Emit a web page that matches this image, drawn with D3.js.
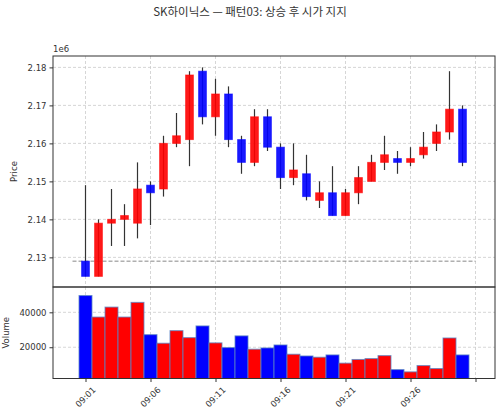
<!DOCTYPE html>
<html>
<head>
<meta charset="utf-8">
<script src="https://cdn.jsdelivr.net/npm/d3@7"></script>
<style>
  body { margin: 0; background: #fff; }
  text { font-family: "DejaVu Sans", "Noto Sans CJK KR", sans-serif; fill: #333; }
</style>
</head>
<body>
<div id="chart"></div>
<script>
// data (prices in won, volume in shares)
var times  = ["09:01","09:02","09:03","09:04","09:05","09:06","09:07","09:08","09:09","09:10",
              "09:11","09:12","09:13","09:14","09:15","09:16","09:17","09:18","09:19","09:20",
              "09:21","09:22","09:23","09:24","09:25","09:26","09:27","09:28","09:29","09:30"];
var opens  = [2129,2125,2139,2140,2139,2149,2148,2160,2161,2179, 2167,2173,2161,2155,2167,2159,2151,2152,2145,2147, 2141,2147,2150,2155,2156,2155,2157,2160,2163,2169];
var highs  = [2149,2140,2148,2144,2155,2150,2162,2168,2179,2180, 2177,2175,2162,2169,2169,2160,2160,2157,2150,2154, 2148,2154,2157,2162,2158,2159,2163,2165,2179,2170];
var lows   = [2125,2125,2133,2133,2135,2138.5,2146,2159,2154,2165, 2162,2159,2152,2154,2158,2148,2149,2145,2143,2141, 2141,2144,2150,2153,2152,2154,2156,2158,2161,2154];
var closes = [2125,2139,2140,2141,2148,2147,2160,2162,2178,2167, 2173,2161,2155,2167,2159,2151,2153,2146,2147,2141, 2147,2151,2155,2157,2155,2156,2159,2163,2169,2155];
var volumes = [49600,37300,43000,37300,45700,27200,22300,29500,25500,32200,
               22500,19800,26500,18900,19600,21300,16000,15000,14300,15600,
               10900,13000,13500,15200,7200,5900,9500,7800,25300,15600];
var supportPrice = 2129; // open of first candle
var priceTicks = [2130,2140,2150,2160,2170,2180];
var volTicks = [20000, 40000];
var xTickIdx = [0,5,10,15,20,25,30];
var xTickLabels = ["09:01","09:06","09:11","09:16","09:21","09:26",""];

var W = 500, H = 416;
var left = 53, right = 495;
var pTop = 56, pBot = 287, vTop = 287, vBot = 378.5;
var up = "#ff0000", down = "#0000ff";

var svg = d3.select("#chart").append("svg").attr("width", W).attr("height", H);

var x = d3.scaleLinear().domain([-2.5, 31.5]).range([left, right]);
var yP = d3.scaleLinear().domain([2122.2, 2183]).range([pBot, pTop]);
var yV = d3.scaleLinear().domain([2100, 54500]).range([vBot, vTop]);

var data = times.map(function(t, i) {
  return {i: i, t: t, o: opens[i], h: highs[i], l: lows[i], c: closes[i], v: volumes[i]};
});
function col(d) { return d.c >= d.o ? up : down; }

// title
svg.append("text").attr("x", 250).attr("y", 16).attr("text-anchor", "middle")
  .style("font-size", "11.5px").style("font-family", "'Noto Sans CJK KR', sans-serif")
  .text("SK하이닉스 — 패턴03: 상승 후 시가 지지");

// grids
function grid(y0, y1, yTicks, yScale) {
  var g = svg.append("g").attr("stroke", "#cccccc").attr("stroke-dasharray", "3,2").attr("stroke-width", 0.8);
  xTickIdx.forEach(function(i) {
    g.append("line").attr("x1", x(i)).attr("x2", x(i)).attr("y1", y0).attr("y2", y1);
  });
  yTicks.forEach(function(v) {
    g.append("line").attr("x1", left).attr("x2", right).attr("y1", yScale(v)).attr("y2", yScale(v));
  });
}
grid(pTop, pBot, priceTicks, yP);
grid(vTop, vBot, volTicks, yV);

// support line
svg.append("line")
  .attr("x1", x(-1)).attr("x2", x(30)).attr("y1", yP(supportPrice)).attr("y2", yP(supportPrice))
  .attr("stroke", "#888").attr("stroke-dasharray", "4,2").attr("stroke-width", 1);

// candles
var cw = 0.6;
var pg = svg.append("g");
pg.selectAll(".wick").data(data).enter().append("line")
  .attr("x1", function(d){ return x(d.i); }).attr("x2", function(d){ return x(d.i); })
  .attr("y1", function(d){ return yP(d.h); }).attr("y2", function(d){ return yP(d.l); })
  .attr("stroke", "#333").attr("stroke-width", 1.2);
pg.selectAll(".body").data(data).enter().append("rect")
  .attr("x", function(d){ return x(d.i - cw/2); })
  .attr("width", x(cw) - x(0))
  .attr("y", function(d){ return yP(Math.max(d.o, d.c)); })
  .attr("height", function(d){ return Math.max(1, yP(Math.min(d.o, d.c)) - yP(Math.max(d.o, d.c))); })
  .attr("fill", col).attr("fill-opacity", 0.9)
  .attr("stroke", col).attr("stroke-opacity", 0.6).attr("stroke-width", 1);

// volume bars
var vg = svg.append("g");
vg.selectAll("rect").data(data).enter().append("rect")
  .attr("x", function(d){ return x(d.i - 0.5); })
  .attr("width", x(1) - x(0))
  .attr("y", function(d){ return yV(d.v); })
  .attr("height", function(d){ return vBot - yV(d.v); })
  .attr("fill", col)
  .attr("stroke", "#5b86c4").attr("stroke-opacity", 0.8).attr("stroke-width", 1);

// frames
[[pTop, pBot], [vTop, vBot]].forEach(function(p) {
  svg.append("rect").attr("x", left).attr("y", p[0]).attr("width", right - left).attr("height", p[1] - p[0])
    .attr("fill", "none").attr("stroke", "#333").attr("stroke-width", 1);
});

// axes
var yAxisP = d3.axisLeft(yP).tickValues(priceTicks).tickSize(3.5).tickPadding(3)
  .tickFormat(function(d){ return (d / 1000).toFixed(2); });
svg.append("g").attr("transform", "translate(" + left + ",0)").call(yAxisP);
var yAxisV = d3.axisLeft(yV).tickValues(volTicks).tickSize(3.5).tickPadding(3).tickFormat(d3.format("d"));
svg.append("g").attr("transform", "translate(" + left + ",0)").call(yAxisV);
var xAxis = d3.axisBottom(x).tickValues(xTickIdx).tickSize(3.5).tickFormat("");
svg.append("g").attr("transform", "translate(0," + vBot + ")").call(xAxis);
svg.selectAll(".domain").remove();
svg.selectAll(".tick line").attr("stroke", "#333");
svg.selectAll(".tick text").style("font-size", "8.5px").attr("fill", "#333");

// rotated x labels
xTickIdx.forEach(function(i, k) {
  svg.append("text").attr("transform", "translate(" + x(i) + ",397) rotate(-45)")
    .attr("text-anchor", "middle").attr("dy", "0.35em").style("font-size", "8.5px")
    .text(xTickLabels[k]);
});

// labels
svg.append("text").attr("x", left).attr("y", 52).style("font-size", "8.5px").text("1e6");
svg.append("text").attr("transform", "translate(17," + ((pTop + pBot) / 2) + ") rotate(-90)")
  .attr("text-anchor", "middle").style("font-size", "8.5px").text("Price");
svg.append("text").attr("transform", "translate(9," + ((vTop + vBot) / 2) + ") rotate(-90)")
  .attr("text-anchor", "middle").style("font-size", "8.5px").text("Volume");
</script>
</body>
</html>
